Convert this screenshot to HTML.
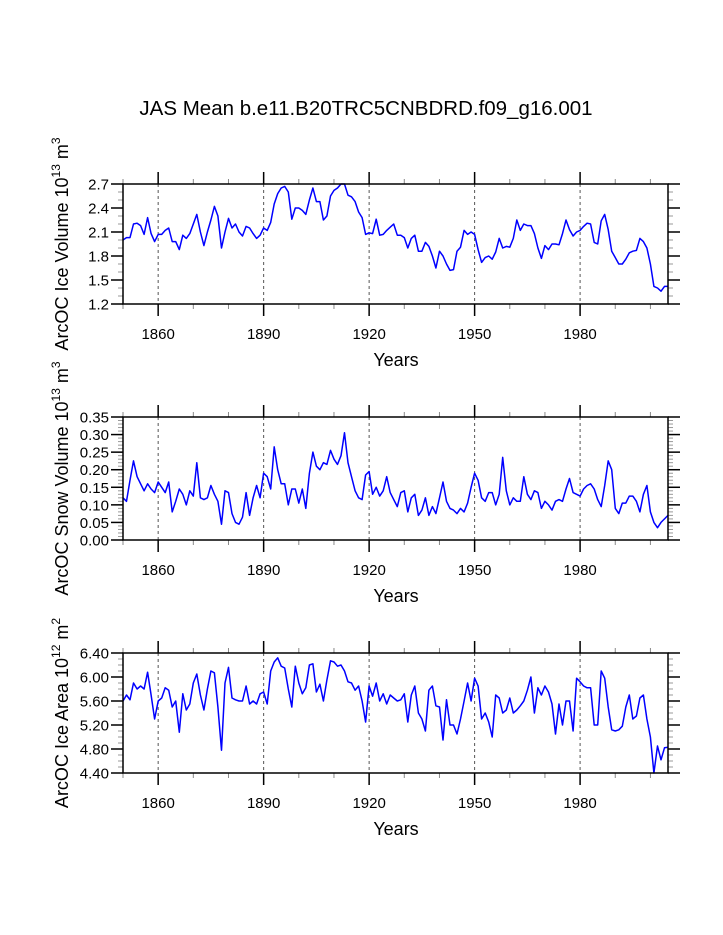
<!DOCTYPE html>
<html><head><meta charset="utf-8"><style>
body{margin:0;background:#fff}
svg{display:block;font-family:"Liberation Sans",Arial,sans-serif}
</style></head><body>
<svg id="chart" width="723" height="935" viewBox="0 0 723 935" xmlns="http://www.w3.org/2000/svg">
<rect width="723" height="935" fill="#fff"/>
<text x="366" y="115" font-size="20.5" text-anchor="middle">JAS Mean b.e11.B20TRC5CNBDRD.f09_g16.001</text>
</svg>
<script>
const startYear = 1850;
const iceVolume = [2.0,2.03,2.03,2.2,2.21,2.18,2.07,2.28,2.08,1.98,
2.07,2.07,2.12,2.15,1.98,1.98,1.88,2.06,2.02,2.08,
2.2,2.32,2.1,1.93,2.1,2.25,2.42,2.3,1.9,2.1,
2.27,2.15,2.2,2.1,2.05,2.17,2.15,2.08,2.02,2.06,
2.15,2.12,2.22,2.45,2.58,2.65,2.67,2.6,2.26,2.4,
2.4,2.37,2.32,2.5,2.65,2.48,2.48,2.25,2.3,2.55,
2.62,2.65,2.7,2.7,2.56,2.54,2.48,2.35,2.28,2.07,
2.09,2.08,2.26,2.06,2.07,2.12,2.16,2.2,2.06,2.06,
2.03,1.9,2.02,2.06,1.86,1.86,1.97,1.92,1.8,1.65,
1.86,1.8,1.7,1.62,1.63,1.86,1.91,2.12,2.07,2.1,
2.07,1.88,1.72,1.78,1.8,1.76,1.85,2.02,1.9,1.92,
1.91,2.02,2.25,2.12,2.2,2.18,2.18,2.08,1.9,1.77,
1.93,1.88,1.95,1.95,1.94,2.08,2.25,2.13,2.05,2.1,
2.12,2.17,2.21,2.2,1.97,1.95,2.24,2.32,2.13,1.86,
1.78,1.7,1.7,1.76,1.84,1.86,1.87,2.02,1.98,1.9,
1.7,1.42,1.4,1.36,1.42,1.42];
const snowVolume = [.12,.11,.17,.225,.18,.16,.14,.16,.145,.135,
.165,.15,.135,.165,.08,.11,.145,.13,.1,.14,
.125,.22,.12,.115,.12,.155,.13,.11,.045,.14,
.135,.075,.05,.045,.065,.135,.07,.12,.155,.12,
.19,.18,.145,.265,.2,.16,.16,.1,.145,.145,
.105,.145,.09,.19,.25,.21,.2,.22,.215,.255,
.23,.215,.24,.305,.22,.18,.14,.12,.115,.185,
.195,.13,.15,.125,.14,.18,.135,.115,.095,.135,
.14,.08,.12,.13,.07,.085,.12,.07,.095,.075,
.12,.165,.11,.09,.085,.075,.09,.08,.105,.15,
.19,.17,.12,.11,.135,.135,.1,.13,.235,.14,
.1,.12,.11,.11,.18,.13,.115,.14,.135,.09,
.11,.1,.085,.11,.115,.11,.145,.175,.135,.13,
.125,.145,.155,.16,.145,.115,.095,.155,.225,.2,
.09,.075,.105,.105,.125,.125,.11,.08,.13,.155,
.08,.05,.035,.05,.06,.07];
const iceArea = [5.6,5.7,5.62,5.9,5.8,5.85,5.8,6.08,5.7,5.3,
5.6,5.65,5.82,5.78,5.5,5.6,5.08,5.72,5.45,5.55,
5.9,6.05,5.7,5.45,5.8,6.1,6.07,5.5,4.78,5.9,
6.16,5.65,5.62,5.6,5.6,5.85,5.55,5.6,5.55,5.72,
5.75,5.55,6.1,6.25,6.32,6.18,6.15,5.8,5.5,6.18,
5.9,5.72,5.82,6.2,6.22,5.75,5.88,5.6,5.95,6.27,
6.25,6.18,6.2,6.1,5.92,5.9,5.78,5.85,5.6,5.25,
5.85,5.68,5.9,5.6,5.72,5.55,5.7,5.65,5.6,5.62,
5.72,5.25,5.7,5.85,5.4,5.3,5.1,5.78,5.85,5.52,
5.5,4.95,5.62,5.2,5.2,5.05,5.3,5.6,5.9,5.6,
5.98,5.85,5.3,5.4,5.25,5.0,5.7,5.65,5.4,5.45,
5.65,5.4,5.45,5.52,5.6,5.78,6.0,5.4,5.82,5.7,
5.85,5.75,5.55,5.05,5.55,5.2,5.6,5.6,5.1,5.98,
5.92,5.85,5.82,5.82,5.2,5.2,6.1,5.98,5.5,5.12,
5.1,5.12,5.18,5.5,5.7,5.3,5.35,5.65,5.7,5.3,
5.0,4.4,4.85,4.62,4.82,4.83];
const xTickYears = [1860,1890,1920,1950,1980];
const volTicks = ["1.2","1.5","1.8","2.1","2.4","2.7"];
const snowTicks = ["0.00","0.05","0.10","0.15","0.20","0.25","0.30","0.35"];
const areaTicks = ["4.40","4.80","5.20","5.60","6.00","6.40"];

const svg = document.getElementById('chart');
const NS = 'http://www.w3.org/2000/svg';
const X0 = 123, X1 = 668, Y_END = 2005;
function xs(yr){ return X0 + (yr - startYear) / (Y_END - startYear) * (X1 - X0); }
function mk(tag, attrs, parent){
  const e = document.createElementNS(NS, tag);
  for (const k in attrs) e.setAttribute(k, attrs[k]);
  (parent || svg).appendChild(e);
  return e;
}
function panel(name, top, bot, ymin, ymax, ticks, minorStep, data, t1, t2, t3) {
  const g = mk('g', {});
  
  
  const ys = v => bot - (v - ymin) / (ymax - ymin) * (bot - top);
  xTickYears.forEach(yr => {
    const l = mk('line', {x1: xs(yr), x2: xs(yr), y1: top, y2: bot, stroke: '#555', 'stroke-width': 1, 'stroke-dasharray': '3,3'}, g);
    
    
  });
  for (let yr = 1850; yr <= Y_END; yr += 10) {
    const x = xs(yr);
    const major = xTickYears.includes(yr);
    const len = major ? 12 : 5;
    mk('line', {x1: x, x2: x, y1: bot, y2: bot + len, stroke: major ? '#000' : '#888', 'stroke-width': major ? 1.5 : 1}, g);
    mk('line', {x1: x, x2: x, y1: top, y2: top - len, stroke: major ? '#000' : '#888', 'stroke-width': major ? 1.5 : 1}, g);
  }
  xTickYears.forEach(yr => {
    const t = mk('text', {x: xs(yr), y: bot + 35, 'font-size': 15, 'text-anchor': 'middle'}, g);
    t.textContent = yr;
    
    
  });
  const nMinor = Math.round((ymax - ymin) / minorStep);
  for (let i = 0; i <= nMinor; i++) {
    const y = bot - i / nMinor * (bot - top);
    mk('line', {x1: X0 - 5, x2: X0, y1: y, y2: y, stroke: '#999', 'stroke-width': 1}, g);
    mk('line', {x1: X1, x2: X1 + 5, y1: y, y2: y, stroke: '#999', 'stroke-width': 1}, g);
  }
  ticks.forEach(lbl => {
    const y = ys(parseFloat(lbl));
    mk('line', {x1: X0 - 12, x2: X0, y1: y, y2: y, stroke: '#000', 'stroke-width': 1.5}, g);
    mk('line', {x1: X1, x2: X1 + 12, y1: y, y2: y, stroke: '#000', 'stroke-width': 1.5}, g);
    const t = mk('text', {x: X0 - 14, y: y + 5.5, 'font-size': 15, 'text-anchor': 'end'}, g);
    t.textContent = lbl;
    
    
  });
  const pts = data.map((v, i) => xs(startYear + i).toFixed(1) + ',' + ys(v).toFixed(1)).join(' ');
  const pl = mk('polyline', {points: pts, fill: 'none', stroke: '#0000ff', 'stroke-width': 1.5, 'stroke-linejoin': 'round'}, g);
  
  
  const box = mk('rect', {x: X0, y: top, width: X1 - X0, height: bot - top, fill: 'none', stroke: '#000', 'stroke-width': 1.5}, g);
  
  
  const xt = mk('text', {x: 396, y: bot + 62, 'font-size': 18, 'text-anchor': 'middle'}, g);
  xt.textContent = 'Years';
  
  
  const cy = (top + bot) / 2;
  const yt = mk('text', {x: 0, y: 0, 'font-size': 18, 'text-anchor': 'middle', transform: 'translate(68,' + cy + ') rotate(-90)'}, g);
  
  
  const a = mk('tspan', {}, yt); a.textContent = t1;
  const b = mk('tspan', {dy: -8, 'font-size': 12}, yt); b.textContent = t2;
  const c = mk('tspan', {dy: 8}, yt); c.textContent = ' m';
  const d = mk('tspan', {dy: -8, 'font-size': 12}, yt); d.textContent = t3;
}
panel('ice-volume', 184, 304, 1.2, 2.7, volTicks, 0.1, iceVolume, 'ArcOC Ice Volume 10', '13', '3');
panel('snow-volume', 417, 540, 0, 0.35, snowTicks, 0.01, snowVolume, 'ArcOC Snow Volume 10', '13', '3');
panel('ice-area', 653, 773, 4.4, 6.4, areaTicks, 0.1, iceArea, 'ArcOC Ice Area 10', '12', '2');
</script>
</body></html>
